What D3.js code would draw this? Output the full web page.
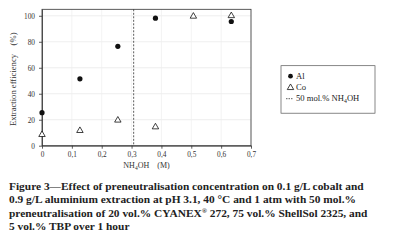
<!DOCTYPE html>
<html>
<head>
<meta charset="utf-8">
<script src="https://cdn.jsdelivr.net/npm/d3@7"></script>
<style>
body { margin: 0; background: #fff; }
svg { display: block; }
</style>
</head>
<body>
<div id="chart"></div>
<script>
// data
const alX = [0, 0.127, 0.254, 0.38, 0.634];
const alY = [25.4, 51.5, 76.5, 98.2, 95.6];
const coX = [0, 0.127, 0.254, 0.38, 0.507, 0.634];
const coY = [8.5, 11.6, 19.6, 14.4, 99.6, 100];
const neutralLine = 0.307;
const xTicks = [0, 0.1, 0.2, 0.3, 0.4, 0.5, 0.6, 0.7];
const yTicks = [0, 20, 40, 60, 80, 100];
const legendLabels = ['Al', 'Co', '50 mol.% NH'];
const captionLines = [
    'Figure 3\u2014Effect of preneutralisation concentration on 0.1 g/L cobalt and',
    '0.9 g/L aluminium extraction at pH 3.1, 40 \u00b0C and 1 atm with 50 mol.%',
    'preneutralisation of 20 vol.% CYANEX\u00ae 272, 75 vol.% ShellSol 2325, and',
    '5 vol.% TBP over 1 hour'
];

const W = 394, H = 244;
const margin = {left: 42, top: 9.3, right: 143, bottom: 98.3};
const width = W - margin.left - margin.right;
const height = H - margin.top - margin.bottom;
const serif = '"Liberation Serif", "DejaVu Serif", serif';

const svg = d3.select('#chart').append('svg')
    .attr('width', W)
    .attr('height', H);

const chart = svg.append('g')
    .attr('transform', `translate(${margin.left},${margin.top})`);

const x = d3.scaleLinear().domain([0, 0.7]).range([0, width]);
const y = d3.scaleLinear().domain([0, 105]).range([height, 0]);

// grid
chart.append('g').selectAll('line.h')
    .data(yTicks.slice(1))
    .join('line')
    .attr('x1', 0).attr('x2', width)
    .attr('y1', d => y(d)).attr('y2', d => y(d))
    .attr('stroke', '#e6e6e6').attr('stroke-width', 0.7);
chart.append('g').selectAll('line.v')
    .data(xTicks.slice(1))
    .join('line')
    .attr('x1', d => x(d)).attr('x2', d => x(d))
    .attr('y1', 0).attr('y2', height)
    .attr('stroke', '#eeeeee').attr('stroke-width', 0.7);

// box
chart.append('rect')
    .attr('width', width).attr('height', height)
    .attr('fill', 'none').attr('stroke', '#333').attr('stroke-width', 0.8);

// axes
const xAxis = d3.axisBottom(x).tickValues(xTicks).tickSize(3).tickSizeOuter(0)
    .tickFormat(d => d === 0 ? '0' : d3.format('.1f')(d).replace('.', ','));
const yAxis = d3.axisLeft(y).tickValues(yTicks).tickSize(3).tickSizeOuter(0);

const xg = chart.append('g').attr('transform', `translate(0,${height})`).call(xAxis);
const yg = chart.append('g').call(yAxis);
[xg, yg].forEach(g => {
    g.select('.domain').attr('stroke', '#333').attr('stroke-width', 0.8);
    g.selectAll('.tick line').attr('stroke', '#333').attr('stroke-width', 0.8);
    g.selectAll('.tick text')
        .attr('font-family', serif).attr('font-size', 7.3).attr('fill', '#333');
});
xg.selectAll('.tick text').attr('dy', '0.9em').attr('y', 5);
yg.selectAll('.tick text').attr('x', -7);

// dashed neutralisation line
chart.append('line')
    .attr('x1', x(neutralLine)).attr('x2', x(neutralLine))
    .attr('y1', 0).attr('y2', height)
    .attr('stroke', '#333').attr('stroke-width', 0.8)
    .attr('stroke-dasharray', '2,1.5');

// points
const tri = d3.symbol().type(d3.symbolTriangle).size(18);
chart.append('g').selectAll('path')
    .data(coX.map((d, i) => [d, coY[i]]))
    .join('path')
    .attr('d', tri)
    .attr('transform', d => `translate(${x(d[0])},${y(d[1])})`)
    .attr('fill', '#fff').attr('stroke', '#111').attr('stroke-width', 0.8);
chart.append('g').selectAll('circle')
    .data(alX.map((d, i) => [d, alY[i]]))
    .join('circle')
    .attr('cx', d => x(d[0])).attr('cy', d => y(d[1]))
    .attr('r', 2.6).attr('fill', '#111');

// axis titles
svg.append('text')
    .attr('transform', `translate(16,${margin.top + 70}) rotate(-90)`)
    .attr('text-anchor', 'middle')
    .attr('font-family', serif).attr('font-size', 8.6).attr('fill', '#333')
    .attr('xml:space', 'preserve')
    .text('Extraction efficiency    (%)');

const xt = svg.append('text')
    .attr('x', margin.left + x(0.35)).attr('y', 168)
    .attr('text-anchor', 'middle')
    .attr('font-family', serif).attr('font-size', 8).attr('fill', '#333')
    .attr('xml:space', 'preserve');
xt.append('tspan').text('NH');
xt.append('tspan').attr('font-size', 5.5).attr('dy', 1.5).text('4');
xt.append('tspan').attr('dy', -1.5).text('OH    (M)');

// legend
const lg = svg.append('g').attr('transform', 'translate(281,65.7)');
lg.append('rect').attr('width', 94).attr('height', 47.5)
    .attr('fill', '#fff').attr('stroke', '#555').attr('stroke-width', 0.7);
lg.append('circle').attr('cx', 9.5).attr('cy', 10.5).attr('r', 2.4).attr('fill', '#111');
lg.append('path').attr('d', tri).attr('transform', 'translate(9.5,22)')
    .attr('fill', '#fff').attr('stroke', '#111').attr('stroke-width', 0.8);
lg.append('line').attr('x1', 5).attr('x2', 12).attr('y1', 33).attr('y2', 33)
    .attr('stroke', '#333').attr('stroke-width', 0.8).attr('stroke-dasharray', '1.5,1');
legendLabels.forEach((t, i) => {
    const tx = lg.append('text')
        .attr('x', 15).attr('y', 13.5 + i * 11)
        .attr('font-family', serif).attr('font-size', 8.6).attr('fill', '#222')
        .text(t);
    if (i === 2) {
        tx.append('tspan').attr('font-size', 5.8).attr('dy', 1.5).text('4');
        tx.append('tspan').attr('dy', -1.5).text('OH');
    }
});

// caption (® drawn as superscript)
svg.append('g').selectAll('text')
    .data(captionLines)
    .join('text')
    .attr('x', 9).attr('y', (d, i) => 189.5 + i * 13.6)
    .attr('font-family', serif).attr('font-weight', 'bold')
    .attr('font-size', 11.4).attr('fill', '#222')
    .each(function(d) {
        const parts = d.split('\u00ae');
        const t = d3.select(this);
        t.append('tspan').text(parts[0]);
        if (parts.length > 1) {
            t.append('tspan').attr('font-size', 7).attr('dy', -4).text('\u00ae');
            t.append('tspan').attr('dy', 4).text(parts[1]);
        }
    });
</script>
</body>
</html>
